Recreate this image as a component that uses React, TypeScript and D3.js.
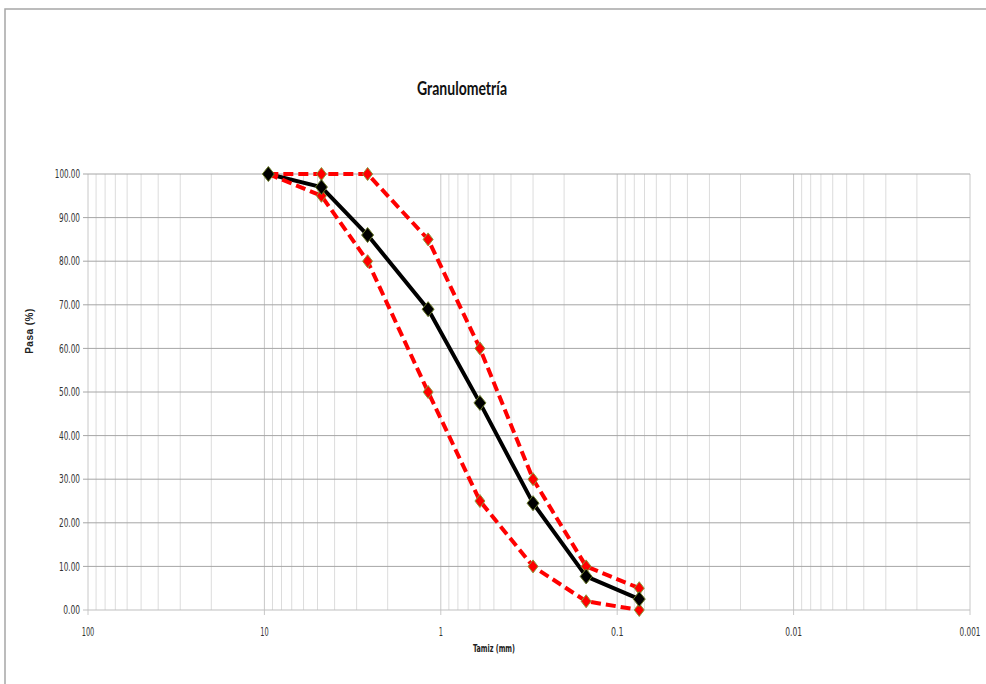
import React, { useRef, useEffect } from "react";
import * as d3 from "d3";

// sieve opening (mm) and % passing
const tamiz = [9.5, 4.75, 2.6, 1.18, 0.6, 0.3, 0.15, 0.075];
const pasa = [100, 97, 86, 69, 47.5, 24.5, 7.7, 2.5];
const limiteSuperior = [100, 100, 100, 85, 60, 30, 10, 5];
const limiteInferior = [100, 95, 80, 50, 25, 10, 2, 0];

const xTickLabels = ["100", "10", "1", "0.1", "0.01", "0.001"];
const yTicks = [0, 10, 20, 30, 40, 50, 60, 70, 80, 90, 100];

const W = 986;
const H = 684;
const tickFont = "'Liberation Sans Narrow', 'Arial Narrow', 'DejaVu Sans Condensed', sans-serif";

const App = () => {
  const svgRef = useRef<SVGSVGElement>(null);

  useEffect(() => {
    const svg = d3.select(svgRef.current);
    svg.selectAll("*").remove();

    const x = d3.scaleLog().domain([100, 0.001]).range([88, 970]);
    const y = d3.scaleLinear().domain([0, 100]).range([610, 174]);

    // outer frame
    svg.append("rect")
      .attr("x", 5).attr("y", 9)
      .attr("width", W + 20).attr("height", H + 20)
      .attr("fill", "#fff")
      .attr("stroke", "#a6a6a6").attr("stroke-width", 1.5);

    // vertical grid
    const allTicks = x.ticks();
    const isMajor = (v: number) => Math.abs(Math.log10(v) - Math.round(Math.log10(v))) < 1e-6;
    svg.append("g").selectAll("line")
      .data(allTicks.filter(v => !isMajor(v)))
      .join("line")
      .attr("x1", d => x(d)).attr("x2", d => x(d))
      .attr("y1", y(100)).attr("y2", y(0))
      .attr("stroke", "#dcdcdc").attr("stroke-width", 1);

    svg.append("g").selectAll("line")
      .data(xTickLabels.map(Number))
      .join("line")
      .attr("x1", d => x(d)).attr("x2", d => x(d))
      .attr("y1", y(100)).attr("y2", y(0) + 5)
      .attr("stroke", "#c8c8c8").attr("stroke-width", 1);

    // horizontal grid
    svg.append("g").selectAll("line")
      .data(yTicks)
      .join("line")
      .attr("x1", 83).attr("x2", 970)
      .attr("y1", d => y(d)).attr("y2", d => y(d))
      .attr("stroke", d => (d === 0 ? "#bfbfbf" : "#a6a6a6")).attr("stroke-width", 1);

    // y tick labels (condensed like the original)
    svg.append("g").selectAll("text")
      .data(yTicks)
      .join("text")
      .attr("x", 80).attr("y", d => y(d))
      .attr("dy", "0.35em")
      .attr("text-anchor", "end")
      .attr("textLength", d => d.toFixed(2).length * 4.2)
      .attr("lengthAdjust", "spacingAndGlyphs")
      .style("font-family", tickFont)
      .style("font-size", "12px")
      .attr("fill", "#333")
      .text(d => d.toFixed(2));

    // x tick labels
    svg.append("g").selectAll("text")
      .data(xTickLabels)
      .join("text")
      .attr("x", d => x(Number(d))).attr("y", 636)
      .attr("text-anchor", "middle")
      .attr("textLength", d => d.length * 4.2)
      .attr("lengthAdjust", "spacingAndGlyphs")
      .style("font-family", tickFont)
      .style("font-size", "12px")
      .attr("fill", "#333")
      .text(d => d);

    // titles
    svg.append("text")
      .attr("x", 462).attr("y", 95)
      .attr("text-anchor", "middle")
      .attr("textLength", 90)
      .attr("lengthAdjust", "spacingAndGlyphs")
      .style("font-family", "Lato, 'Open Sans', sans-serif")
      .style("font-weight", "bold")
      .style("font-size", "18px")
      .attr("fill", "#111")
      .text("Granulometría");

    svg.append("text")
      .attr("x", 494).attr("y", 652)
      .attr("text-anchor", "middle")
      .attr("textLength", 42)
      .attr("lengthAdjust", "spacingAndGlyphs")
      .style("font-family", tickFont)
      .style("font-weight", "bold")
      .style("font-size", "11px")
      .attr("fill", "#222")
      .text("Tamiz (mm)");

    svg.append("text")
      .attr("transform", "translate(33,331) rotate(-90)")
      .attr("text-anchor", "middle")
      .style("font-family", "'Liberation Sans', Arial, sans-serif")
      .style("font-weight", "bold")
      .style("font-size", "10px")
      .style("letter-spacing", "0.5px")
      .attr("fill", "#222")
      .text("Pasa (%)");

    const line = d3.line<number>()
      .x((_, i) => x(tamiz[i]))
      .y(d => y(d));

    const diamond = (w: number, h: number) =>
      `M0,${-h / 2}L${w / 2},0L0,${h / 2}L${-w / 2},0Z`;

    // black main curve
    svg.append("path")
      .datum(pasa)
      .attr("d", line)
      .attr("fill", "none")
      .attr("stroke", "#000")
      .attr("stroke-width", 4)
      .attr("stroke-linejoin", "round");

    // red limit curves
    [limiteSuperior, limiteInferior].forEach(serie => {
      svg.append("path")
        .datum(serie)
        .attr("d", line)
        .attr("fill", "none")
        .attr("stroke", "#ff0000")
        .attr("stroke-width", 4)
        .attr("stroke-dasharray", "10,5");
    });

    [limiteSuperior, limiteInferior].forEach(serie => {
      svg.append("g").selectAll("path")
        .data(serie)
        .join("path")
        .attr("transform", (d, i) => `translate(${x(tamiz[i])},${y(d)})`)
        .attr("d", diamond(10, 13))
        .attr("fill", "#ff0000")
        .attr("stroke", "#8a9a3a")
        .attr("stroke-width", 1);
    });

    svg.append("g").selectAll("path")
      .data(pasa)
      .join("path")
      .attr("transform", (d, i) => `translate(${x(tamiz[i])},${y(d)})`)
      .attr("d", diamond(12, 15))
      .attr("fill", "#000")
      .attr("stroke", "#6b7a2a")
      .attr("stroke-width", 1);
  }, []);

  return (
    <svg
      ref={svgRef}
      width={W}
      height={H}
      style={{ position: "absolute", left: 0, top: 0, background: "#fff" }}
    />
  );
};

export default App;
